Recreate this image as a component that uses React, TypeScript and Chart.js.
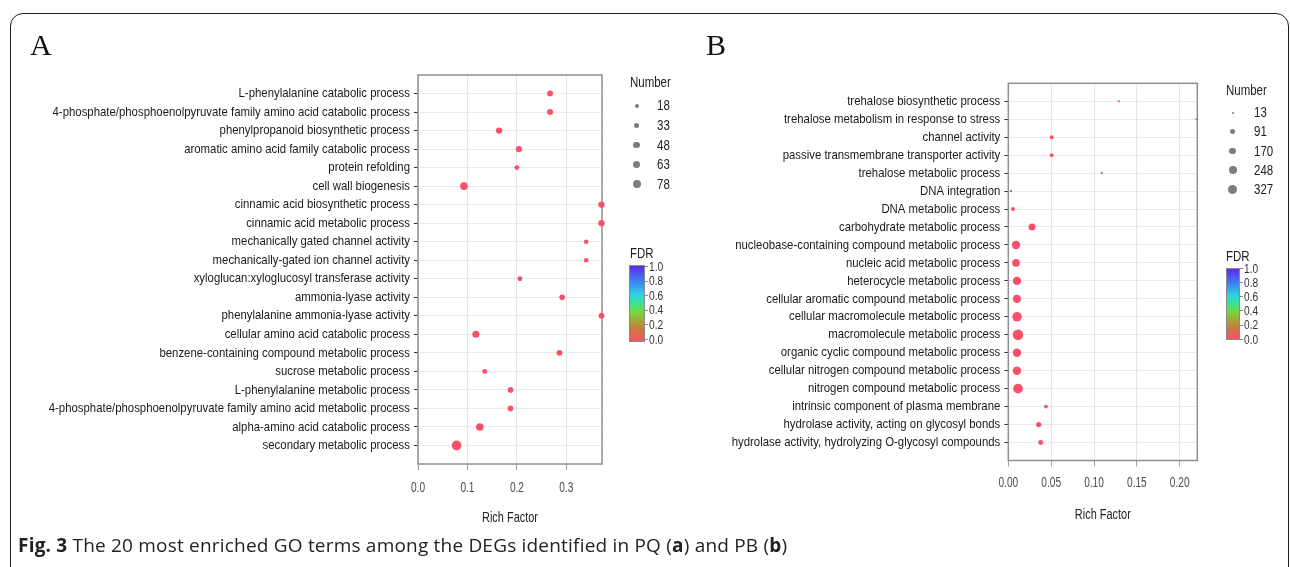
import React, { useEffect, useRef } from 'react';
import { Chart, registerables } from 'chart.js';

Chart.register(...registerables);

// ---------- Panel A data (PQ) ----------
const termsA = [
  'L-phenylalanine catabolic process',
  '4-phosphate/phosphoenolpyruvate family amino acid catabolic process',
  'phenylpropanoid biosynthetic process',
  'aromatic amino acid family catabolic process',
  'protein refolding',
  'cell wall biogenesis',
  'cinnamic acid biosynthetic process',
  'cinnamic acid metabolic process',
  'mechanically gated channel activity',
  'mechanically-gated ion channel activity',
  'xyloglucan:xyloglucosyl transferase activity',
  'ammonia-lyase activity',
  'phenylalanine ammonia-lyase activity',
  'cellular amino acid catabolic process',
  'benzene-containing compound metabolic process',
  'sucrose metabolic process',
  'L-phenylalanine metabolic process',
  '4-phosphate/phosphoenolpyruvate family amino acid metabolic process',
  'alpha-amino acid catabolic process',
  'secondary metabolic process',
];
const richA = [0.267, 0.267, 0.164, 0.204, 0.2, 0.093, 0.371, 0.371, 0.34, 0.34, 0.206, 0.2915, 0.371, 0.117, 0.286, 0.135, 0.187, 0.187, 0.125, 0.078];
const countA = [29, 29, 33, 33, 20, 48, 33, 33, 18, 18, 20, 26, 29, 41, 29, 20, 26, 26, 48, 78];
const fdrA = [0, 0, 0, 0, 0, 0, 0, 0, 0, 0, 0, 0, 0, 0, 0, 0, 0, 0, 0, 0];
const xTicksA = [0, 0.1, 0.2, 0.3];
const xTickLabelsA = ['0.0', '0.1', '0.2', '0.3'];
const legendCountsA = [18, 33, 48, 63, 78];

// ---------- Panel B data (PB) ----------
const termsB = [
  'trehalose biosynthetic process',
  'trehalose metabolism in response to stress',
  'channel activity',
  'passive transmembrane transporter activity',
  'trehalose metabolic process',
  'DNA integration',
  'DNA metabolic process',
  'carbohydrate metabolic process',
  'nucleobase-containing compound metabolic process',
  'nucleic acid metabolic process',
  'heterocycle metabolic process',
  'cellular aromatic compound metabolic process',
  'cellular macromolecule metabolic process',
  'macromolecule metabolic process',
  'organic cyclic compound metabolic process',
  'cellular nitrogen compound metabolic process',
  'nitrogen compound metabolic process',
  'intrinsic component of plasma membrane',
  'hydrolase activity, acting on glycosyl bonds',
  'hydrolase activity, hydrolyzing O-glycosyl compounds',
];
const richB = [0.129, 0.2195, 0.0506, 0.0506, 0.109, 0.003, 0.0055, 0.0277, 0.009, 0.009, 0.0101, 0.0101, 0.0102, 0.0113, 0.0101, 0.0101, 0.0113, 0.044, 0.0355, 0.0378];
const countB = [14, 13, 45, 45, 14, 17, 45, 147, 209, 174, 209, 209, 265, 327, 209, 209, 283, 45, 82, 72];
const fdrB = [0, 0, 0, 0, 0, 0, 0, 0, 0, 0, 0, 0, 0, 0, 0, 0, 0, 0, 0, 0];
const xTicksB = [0, 0.05, 0.1, 0.15, 0.2];
const xTickLabelsB = ['0.00', '0.05', '0.10', '0.15', '0.20'];
const legendCountsB = [13, 91, 170, 248, 327];

// ---------- shared ----------
const fdrTicks = [1.0, 0.8, 0.6, 0.4, 0.2, 0.0];
const fdrTickLabels = ['1.0', '0.8', '0.6', '0.4', '0.2', '0.0'];

const SANS = '"Liberation Sans", Arial, sans-serif';
const LABEL_SIZE = 13.4; // category labels
const TICK_SIZE = 13.9; // numeric tick labels
const TITLE_SIZE = 15; // axis title
// horizontal condensing (narrow-font look) by font size
function condenseFor(size: number) {
  return size < 13.7 ? 0.85 : 0.73;
}
const FDR_STOPS: [number, [number, number, number]][] = [
  [0.0, [250, 80, 105]],
  [0.18, [196, 128, 58]],
  [0.38, [120, 214, 58]],
  [0.5, [60, 226, 140]],
  [0.62, [45, 210, 230]],
  [0.8, [60, 128, 240]],
  [1.0, [96, 40, 240]],
];
function fdrColor(v: number) {
  for (let i = 1; i < FDR_STOPS.length; i++) {
    const [p1, c1] = FDR_STOPS[i];
    const [p0, c0] = FDR_STOPS[i - 1];
    if (v <= p1) {
      const t = (v - p0) / (p1 - p0);
      const c = c0.map((a, k) => Math.round(a + (c1[k] - a) * t));
      return `rgb(${c[0]},${c[1]},${c[2]})`;
    }
  }
  return 'rgb(96,40,240)';
}
const gradientCss =
  'linear-gradient(to top, ' +
  FDR_STOPS.map(([p, c]) => `rgb(${c[0]},${c[1]},${c[2]}) ${p * 100}%`).join(', ') +
  ')';

const panelBorder = {
  id: 'panelBorder',
  beforeDatasetsDraw(chart: any) {
    const { ctx, chartArea: a } = chart;
    ctx.save();
    ctx.strokeStyle = '#8f8f8f';
    ctx.lineWidth = 1.5;
    ctx.strokeRect(a.left, a.top, a.right - a.left, a.bottom - a.top);
    ctx.restore();
  },
};

type PanelCfg = {
  terms: string[];
  rich: number[];
  counts: number[];
  fdr: number[];
  xMax: number;
  xTicks: number[];
  xTickLabels: string[];
  sizeK: number;
  left: number;
  width: number;
  top: number;
  right: number;
  yAxisWidth: number;
  xAxisHeight: number;
  tickPad: number;
  titlePad: number;
};

function DotPanel({ cfg }: { cfg: PanelCfg }) {
  const ref = useRef<HTMLCanvasElement>(null);
  useEffect(() => {
    const canvas = ref.current as HTMLCanvasElement;
    const ctx2d = canvas.getContext('2d') as any;
    const origFill = ctx2d.fillText.bind(ctx2d);
    ctx2d.fillText = (t: string, x: number, y: number, mw?: number) => {
      const m = /([\d.]+)px/.exec(ctx2d.font);
      const k = condenseFor(m ? parseFloat(m[1]) : 12);
      ctx2d.save();
      ctx2d.translate(x, y);
      ctx2d.scale(k, 1);
      if (mw === undefined) origFill(t, 0, 0);
      else origFill(t, 0, 0, mw / k);
      ctx2d.restore();
    };
    const chart = new Chart(canvas, {
      type: 'scatter',
      data: {
        datasets: [
          {
            data: cfg.rich.map((x, i) => ({ x, y: i })),
            pointRadius: (c: any) => (cfg.sizeK * Math.sqrt(cfg.counts[c.dataIndex])) / 2,
            pointHoverRadius: (c: any) => (cfg.sizeK * Math.sqrt(cfg.counts[c.dataIndex])) / 2,
            backgroundColor: (c: any) => fdrColor(cfg.fdr[c.dataIndex] ?? 0),
            borderWidth: 0,
            clip: false,
          } as any,
        ],
      },
      options: {
        animation: false,
        responsive: false,
        maintainAspectRatio: false,
        devicePixelRatio: 1,
        layout: { padding: { left: 0, top: cfg.top, right: cfg.right, bottom: 0 } },
        plugins: { legend: { display: false }, tooltip: { enabled: false } },
        scales: {
          x: {
            type: 'linear',
            min: 0,
            max: cfg.xMax,
            afterBuildTicks: (s: any) => {
              s.ticks = cfg.xTicks.map((v) => ({ value: v }));
            },
            afterFit: (s: any) => {
              s.height = cfg.xAxisHeight;
            },
            ticks: {
              callback: (_v: any, i: number) => cfg.xTickLabels[i],
              font: { family: SANS, size: TICK_SIZE },
              color: '#4d4d4d',
              padding: cfg.tickPad,
              maxRotation: 0,
              autoSkip: false,
            },
            grid: { color: '#e6e6e6', lineWidth: 1, tickColor: '#a0a0a0', tickLength: 6 },
            border: { display: false },
            title: {
              display: true,
              text: 'Rich Factor',
              font: { family: SANS, size: TITLE_SIZE },
              color: '#222',
              padding: { top: 0, bottom: cfg.titlePad },
            },
          },
          y: {
            type: 'linear',
            reverse: true,
            min: -1,
            max: 20,
            afterBuildTicks: (s: any) => {
              s.ticks = cfg.terms.map((_t, i) => ({ value: i }));
            },
            afterFit: (s: any) => {
              s.width = cfg.yAxisWidth;
            },
            ticks: {
              callback: (v: any) => cfg.terms[v as number],
              font: { family: SANS, size: LABEL_SIZE },
              color: '#1a1a1a',
              padding: 4,
              autoSkip: false,
            },
            grid: { color: '#eaeaea', lineWidth: 1, tickColor: '#333', tickLength: 4 },
            border: { display: false },
          },
        },
      } as any,
      plugins: [panelBorder],
    });
    return () => {
      chart.destroy();
      ctx2d.fillText = origFill;
    };
  }, []);
  return (
    <canvas
      ref={ref}
      width={cfg.width}
      height={567}
      style={{ position: 'absolute', left: cfg.left, top: 0, width: cfg.width, height: 567 }}
    />
  );
}

function Txt({ x, y, size, children, color, k }: any) {
  return (
    <div
      style={{
        position: 'absolute',
        left: x,
        top: y - size * 0.6,
        fontSize: size,
        lineHeight: `${size * 1.2}px`,
        fontFamily: SANS,
        color: color || '#222',
        whiteSpace: 'nowrap',
        transform: `scaleX(${k || 0.82})`,
        transformOrigin: 'left center',
      }}
    >
      {children}
    </div>
  );
}

function Legend({ x, titleY, itemY0, itemStep, dotX, labelX, counts, sizeK, fdrY, bar }: any) {
  return (
    <>
      <Txt x={x} y={titleY} size={14}>Number</Txt>
      {counts.map((n: number, i: number) => {
        const d = sizeK * Math.sqrt(n) * 0.86;
        const cy = itemY0 + i * itemStep;
        return (
          <React.Fragment key={i}>
            <div
              style={{
                position: 'absolute',
                left: dotX - d / 2,
                top: cy - d / 2,
                width: d,
                height: d,
                borderRadius: '50%',
                background: '#7d7d7d',
              }}
            />
            <Txt x={labelX} y={cy} size={14}>{String(n)}</Txt>
          </React.Fragment>
        );
      })}
      <Txt x={x} y={fdrY} size={14}>FDR</Txt>
      <div
        style={{
          position: 'absolute',
          left: bar.x,
          top: bar.y,
          width: bar.w,
          height: bar.h,
          background: gradientCss,
          border: '1px solid #8a8a8a',
          boxSizing: 'border-box',
        }}
      />
      {fdrTicks.map((v, i) => {
        const cy = bar.y1 + (bar.y0 - bar.y1) * (1 - v);
        return (
          <React.Fragment key={'t' + i}>
            <div
              style={{
                position: 'absolute',
                left: bar.x + bar.w,
                top: cy - 0.5,
                width: 3,
                height: 1,
                background: '#8a8a8a',
              }}
            />
            <Txt x={bar.x + bar.w + 3.5} y={cy} size={13} k={0.78} color="#333">{fdrTickLabels[i]}</Txt>
          </React.Fragment>
        );
      })}
    </>
  );
}

const cfgA: PanelCfg = {
  terms: termsA,
  rich: richA,
  counts: countA,
  fdr: fdrA,
  xMax: 0.372,
  xTicks: xTicksA,
  xTickLabels: xTickLabelsA,
  sizeK: 1.1,
  left: 48,
  width: 652,
  top: 75,
  right: 700 - 602,
  yAxisWidth: 418 - 48,
  xAxisHeight: 567 - 464,
  tickPad: 10,
  titlePad: 39.8,
};

const cfgB: PanelCfg = {
  terms: termsB,
  rich: richB,
  counts: countB,
  fdr: fdrB,
  xMax: 0.2205,
  xTicks: xTicksB,
  xTickLabels: xTickLabelsB,
  sizeK: 0.58,
  left: 700,
  width: 590,
  top: 83.3,
  right: 1290 - 1197.3,
  yAxisWidth: 1008.3 - 700,
  xAxisHeight: 567 - 460.5,
  tickPad: 8.6,
  titlePad: 42.8,
};

export default function App() {
  return (
    <div
      style={{
        position: 'absolute',
        left: 0,
        top: 0,
        width: 1290,
        height: 567,
        overflow: 'hidden',
        background: '#fff',
      }}
    >
      <div
        style={{
          position: 'absolute',
          left: 10,
          top: 13,
          width: 1279,
          height: 640,
          border: '1.5px solid #1e1e1e',
          borderRadius: 13,
          boxSizing: 'border-box',
        }}
      />
      <DotPanel cfg={cfgA} />
      <DotPanel cfg={cfgB} />
      <div
        style={{
          position: 'absolute',
          left: 30,
          top: 30,
          fontFamily: '"Liberation Serif", "Times New Roman", serif',
          fontSize: 30,
          lineHeight: '30px',
          color: '#111',
        }}
      >
        A
      </div>
      <div
        style={{
          position: 'absolute',
          left: 706,
          top: 30,
          fontFamily: '"Liberation Serif", "Times New Roman", serif',
          fontSize: 30,
          lineHeight: '30px',
          color: '#111',
        }}
      >
        B
      </div>
      <Legend
        x={630}
        titleY={82.7}
        itemY0={105.7}
        itemStep={19.65}
        dotX={636.7}
        labelX={656.7}
        counts={legendCountsA}
        sizeK={1.1}
        fdrY={253}
        bar={{ x: 629.3, y: 265, w: 15.7, h: 76.7, y1: 266.7, y0: 339.3 }}
      />
      <Legend
        x={1226}
        titleY={90}
        itemY0={112.7}
        itemStep={19.15}
        dotX={1232.7}
        labelX={1254}
        counts={legendCountsB}
        sizeK={0.58}
        fdrY={256.7}
        bar={{ x: 1226, y: 268, w: 14, h: 72, y1: 268.3, y0: 339.3 }}
      />
      <div
        style={{
          position: 'absolute',
          left: 18,
          top: 533,
          fontFamily: '"Open Sans", "Noto Sans", sans-serif',
          fontSize: 19,
          lineHeight: '24px',
          letterSpacing: '0.2px',
          color: '#222',
          whiteSpace: 'nowrap',
        }}
      >
        <b>Fig. 3</b> The 20 most enriched GO terms among the DEGs identified in PQ (<b>a</b>) and PB (<b>b</b>)
      </div>
    </div>
  );
}
